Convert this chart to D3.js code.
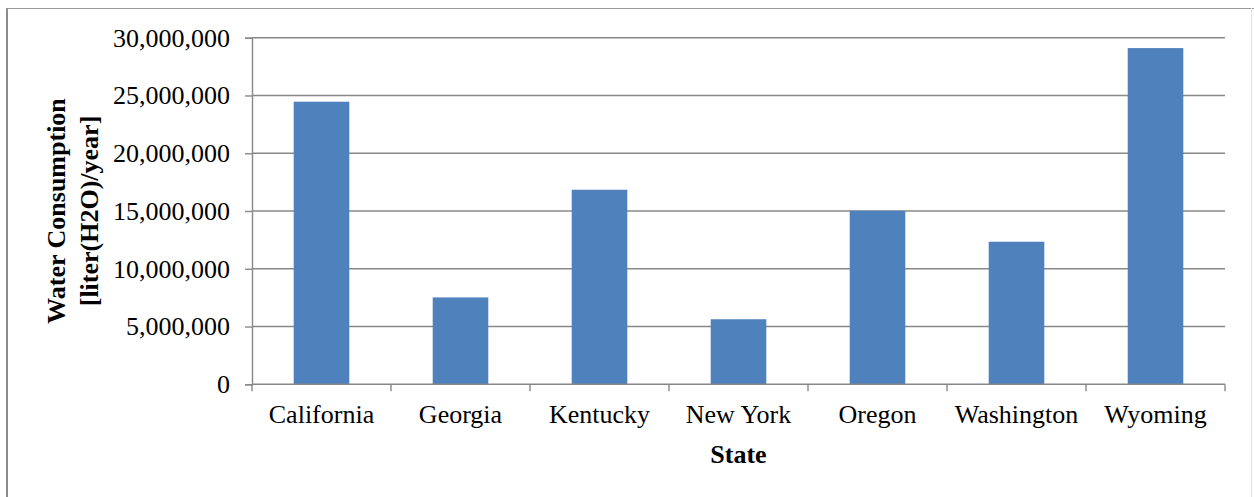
<!DOCTYPE html>
<html>
<head>
<meta charset="utf-8">
<script src="https://cdn.jsdelivr.net/npm/d3@7/dist/d3.min.js"></script>
<style>
  html, body { margin: 0; padding: 0; background: #ffffff; }
  svg { display: block; }
  text { font-family: "Liberation Serif", "Times New Roman", serif; fill: #000; }
</style>
</head>
<body>
<svg id="chart" width="1254" height="497"></svg>
<script>
// Annual water consumption by state
const states = ["California", "Georgia", "Kentucky", "New York", "Oregon", "Washington", "Wyoming"];
const consumption = [24460000, 7520000, 16840000, 5630000, 15020000, 12340000, 29100000];
const yTicks = [0, 5000000, 10000000, 15000000, 20000000, 25000000, 30000000];

const svg = d3.select("#chart");
const W = 1254, H = 497;

// chart frame
svg.append("line").attr("x1", 7).attr("x2", 7).attr("y1", 8).attr("y2", H)
  .attr("stroke", "#8c8c8c").attr("stroke-width", 2);
svg.append("line").attr("x1", 7).attr("x2", W).attr("y1", 8.5).attr("y2", 8.5)
  .attr("stroke", "#9a9a9a").attr("stroke-width", 1);
svg.append("line").attr("x1", 1251.5).attr("x2", 1251.5).attr("y1", 8).attr("y2", H)
  .attr("stroke", "#e2e2e2").attr("stroke-width", 1);

const x = d3.scaleBand().domain(states).range([252, 1225]).padding(0);
const y = d3.scaleLinear().domain([0, 30000000]).range([384.3, 37.7]);

const fmt = d3.format(",");
const gridColor = "#888888";

// horizontal gridlines
svg.append("g").selectAll("line").data(yTicks.filter(d => d > 0)).join("line")
  .attr("x1", 252).attr("x2", 1225)
  .attr("y1", d => y(d)).attr("y2", d => y(d))
  .attr("stroke", gridColor).attr("stroke-width", 1.4);

// bars: 40% of each category band
const barW = x.bandwidth() * 0.4;
svg.append("g").selectAll("rect").data(states).join("rect")
  .attr("x", (d) => x(d) + (x.bandwidth() - barW) / 2)
  .attr("width", barW)
  .attr("y", (d, i) => y(consumption[i]))
  .attr("height", (d, i) => y(0) - y(consumption[i]))
  .attr("fill", "#4f81bd");

// y axis
const yAxis = d3.axisLeft(y).tickValues(yTicks).tickFormat(fmt).tickSize(7).tickPadding(15);
const gy = svg.append("g").attr("transform", "translate(252,0)").call(yAxis);
gy.select(".domain").attr("stroke", gridColor).attr("stroke-width", 1.4);
gy.selectAll(".tick line").attr("stroke", gridColor).attr("stroke-width", 1.4);
gy.selectAll(".tick text").attr("font-size", 26).attr("font-family", "Liberation Serif").attr("fill", "#000");

// x axis with ticks at category boundaries
const gx = svg.append("g").attr("transform", `translate(0,${y(0)})`);
gx.append("line").attr("x1", 252).attr("x2", 1225).attr("y1", 0).attr("y2", 0)
  .attr("stroke", gridColor).attr("stroke-width", 1.4);
const bounds = states.map(d => x(d)).concat([x.range()[1]]);
gx.selectAll("line.tk").data(bounds).join("line").attr("class", "tk")
  .attr("x1", d => d).attr("x2", d => d).attr("y1", 0).attr("y2", 7)
  .attr("stroke", gridColor).attr("stroke-width", 1.4);
gx.selectAll("text").data(states).join("text")
  .attr("x", d => x(d) + x.bandwidth() / 2)
  .attr("y", 39)
  .attr("text-anchor", "middle")
  .attr("font-size", 26)
  .text(d => d);

// axis titles
svg.append("text")
  .attr("x", 738.5).attr("y", 463)
  .attr("text-anchor", "middle")
  .attr("font-size", 26).attr("font-weight", "bold")
  .text("State");

const yTitle = svg.append("text")
  .attr("transform", "translate(0,211) rotate(-90)")
  .attr("text-anchor", "middle")
  .attr("font-size", 26).attr("font-weight", "bold");
yTitle.append("tspan").attr("x", 0).attr("y", 65).text("Water Consumption");
yTitle.append("tspan").attr("x", 0).attr("y", 98).text("[liter(H2O)/year]");
</script>
</body>
</html>
